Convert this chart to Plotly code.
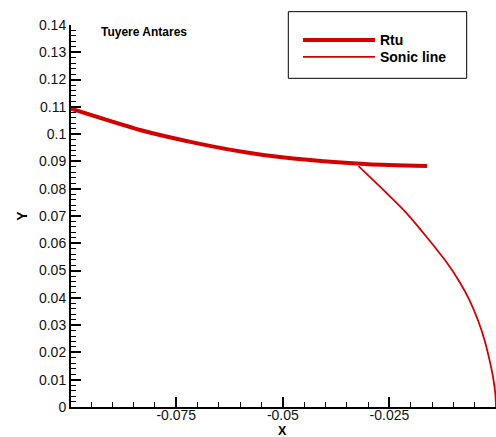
import plotly.graph_objects as go

rtu_x = [-0.0997, -0.0835, -0.0706, -0.0577, -0.0436, -0.0299, -0.0162]
rtu_y = [0.1093, 0.1015, 0.0968, 0.0931, 0.0905, 0.0890, 0.0883]

sonic_x = [-0.03225, -0.02638, -0.02089, -0.01167, -0.00854,
           -0.0062, -0.00423, -0.00268, -0.0015, -0.0007, -0.00016, 0.0]
sonic_y = [0.0883, 0.0795, 0.0709, 0.0532, 0.0458,
           0.0391, 0.0318, 0.0245, 0.0171, 0.0110, 0.0049, 0.0]

x_ticks = [-0.075, -0.05, -0.025, 0]
x_labels = ["-0.075", "-0.05", "-0.025", "0"]
y_ticks = [0, 0.01, 0.02, 0.03, 0.04, 0.05, 0.06, 0.07, 0.08, 0.09, 0.1, 0.11, 0.12, 0.13, 0.14]
y_labels = ["0", "0.01", "0.02", "0.03", "0.04", "0.05", "0.06", "0.07", "0.08", "0.09", "0.1", "0.11", "0.12", "0.13", "0.14"]
x_title = "X"
y_title = "Y"

RED = "#d40000"
FONT = "Liberation Sans, Arial, sans-serif"

fig = go.Figure()
fig.add_trace(go.Scatter(x=rtu_x, y=rtu_y, mode="lines", name="<b>Rtu</b>",
                         line=dict(color=RED, width=4, shape="spline", smoothing=0.6),
                         legend="legend"))
fig.add_trace(go.Scatter(x=sonic_x, y=sonic_y, mode="lines", name="<b>Sonic line</b>",
                         line=dict(color=RED, width=1.8, shape="spline", smoothing=0.8),
                         legend="legend2"))

axis_common = dict(showline=True, linecolor="black", linewidth=2, mirror=False,
                   showgrid=False, zeroline=False, ticks="inside", ticklen=10,
                   tickwidth=2, tickcolor="black",
                   tickfont=dict(family=FONT, size=14, color="#111111"))

fig.update_xaxes(range=[-0.0997, 0], tickvals=x_ticks, ticktext=x_labels,
                 ticklabelstandoff=-6,
                 minor=dict(dtick=0.005, tick0=0, ticks="inside", ticklen=5,
                            tickwidth=1, tickcolor="black"),
                 **axis_common)
fig.update_yaxes(range=[0, 0.14], tickvals=y_ticks, ticktext=y_labels,
                 minor=dict(dtick=0.002, tick0=0, ticks="inside", ticklen=5,
                            tickwidth=1, tickcolor="black"),
                 title=dict(text="<b>" + y_title + "</b>",
                            font=dict(family=FONT, size=14, color="black"), standoff=8),
                 **axis_common)

# x-axis title placed just below the tick labels
fig.add_annotation(x=-0.05, xref="x", y=-0.0624, yref="paper", xanchor="center",
                   yanchor="middle", showarrow=False, text="<b>" + x_title + "</b>",
                   font=dict(family=FONT, size=12.5, color="black"))

fig.add_annotation(x=0.066, y=0.981, xref="paper", yref="paper", xanchor="left",
                   yanchor="middle", showarrow=False, text="<b>Tuyere Antares</b>",
                   font=dict(family=FONT, size=12, color="black"))

# legend frame
fig.add_shape(type="rect", xref="paper", yref="paper",
              x0=0.5113, x1=0.931, y0=0.8604, y1=1.0349,
              line=dict(color="black", width=1), fillcolor="white", layer="below")

leg_common = dict(xanchor="left", yanchor="middle", bgcolor="rgba(0,0,0,0)",
                  borderwidth=0, font=dict(family=FONT, size=14, color="black"),
                  itemwidth=72)
fig.update_layout(
    width=496, height=437,
    margin=dict(l=71, r=0, t=25, b=30, autoexpand=False),
    plot_bgcolor="white", paper_bgcolor="white",
    showlegend=True,
    legend=dict(x=0.534, y=0.960, **leg_common),
    legend2=dict(x=0.534, y=0.9154, **leg_common),
)

fig.write_html("out.html")
